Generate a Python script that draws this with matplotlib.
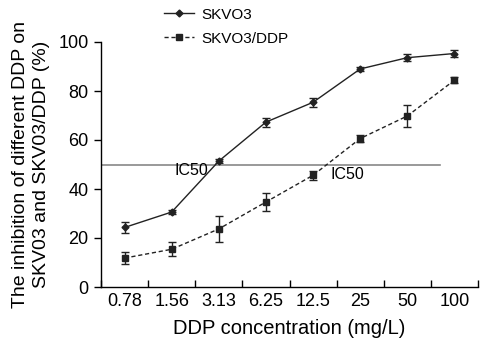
import numpy as np
import matplotlib.pyplot as plt
from matplotlib.lines import Line2D

plt.rcParams['font.family'] = ['Liberation Sans', 'DejaVu Sans']

# data
conc = ['0.78', '1.56', '3.13', '6.25', '12.5', '25', '50', '100']
skvo3 = [24.3, 30.6, 51.4, 67.3, 75.4, 89.0, 93.6, 95.3]
skvo3_err = [2.2, 1.0, 0.8, 1.8, 1.8, 0.9, 1.4, 1.5]
ddp = [11.8, 15.4, 23.7, 34.7, 45.6, 60.6, 69.8, 84.4]
ddp_err = [2.3, 2.8, 5.2, 3.6, 1.8, 1.4, 4.5, 1.2]

fig = plt.figure(figsize=(4.87, 3.39), dpi=100)
ax = fig.add_axes([101 / 487, 52 / 339, 377 / 487, 245 / 339])

x = np.arange(len(conc))
ax.errorbar(x, skvo3, yerr=skvo3_err, color='#222222', lw=1.0, marker='D',
            ms=3.5, capsize=3, elinewidth=1.0, capthick=1.0)
ax.errorbar(x, ddp, yerr=ddp_err, color='#222222', lw=1.0, ls=(0, (3, 2)),
            marker='s', ms=4.5, capsize=3, elinewidth=1.0, capthick=1.0)

# IC50 reference line
ax.plot([-0.5, 6.7], [50, 50], color='#888888', lw=1.2)
ax.text(1.07, 47.5, 'IC50', fontsize=11.5, ha='left', va='center')
ax.text(4.36, 46.0, 'IC50', fontsize=11.5, ha='left', va='center')

ax.set_xlim(-0.5, len(conc) - 0.5)
ax.set_ylim(0, 100)
ax.set_xticks(x)
ax.set_xticklabels(conc, fontsize=13)
ax.set_xticks(np.arange(-0.5, len(conc)), minor=True)
ax.tick_params(axis='x', which='major', length=0, pad=4)
ax.tick_params(axis='x', which='minor', direction='in', length=5, width=1)
ax.set_yticks([0, 20, 40, 60, 80, 100])
ax.tick_params(axis='y', direction='out', length=5, width=1, labelsize=13, pad=4)
for s in ['top', 'right']:
    ax.spines[s].set_visible(False)
for s in ['left', 'bottom']:
    ax.spines[s].set_linewidth(1.0)

ax.set_xlabel('DDP concentration (mg/L)', fontsize=14.5, labelpad=7)
ax.set_ylabel('The inhibition of different DDP on\nSKV03 and SKV03/DDP (%)',
              fontsize=14, labelpad=6, linespacing=1.3)

handles = [Line2D([], [], color='#222222', lw=1.0, marker='D', ms=3.5),
           Line2D([], [], color='#222222', lw=1.0, ls=(0, (3, 2)), marker='s', ms=4.5)]
ax.legend(handles, ['SKVO3', 'SKVO3/DDP'], loc='upper left',
          bbox_to_anchor=(0.15, 1.165), frameon=False, fontsize=11,
          handlelength=2.0, handletextpad=0.45, labelspacing=0.65, borderaxespad=0)

fig.savefig('out.png', dpi=100)
